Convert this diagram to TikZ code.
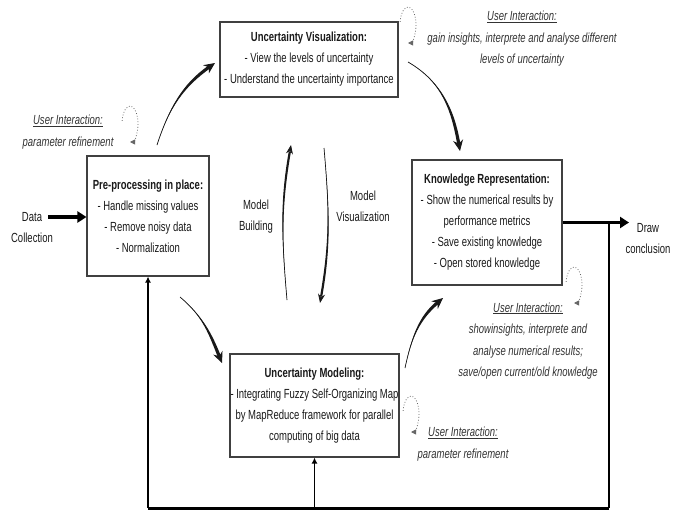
\documentclass[tikz,border=0pt]{standalone}
\usepackage{fontspec}
\setmainfont{Liberation Sans}[FakeStretch=0.72]
\usetikzlibrary{arrows.meta,calc}
\newcommand\taperflow[6][]{%
  \coordinate (tE) at ($(#5)!7pt!(#4)$);
  \coordinate (tN) at ($(tE)!#6!90:(#4)$);
  \coordinate (tS) at ($(tE)!#6!-90:(#4)$);
  \fill[black!90] (#2) .. controls (#3) and ($(#4)+(tN)-(tE)$) .. (tN) -- (tS)
     .. controls ($(#4)+(tS)-(tE)$) and (#3) .. (#2) -- cycle;
  \draw[black!90, line width=0.7pt] (#2) .. controls (#3) and (#4) .. (tE);
  \draw[black!90, #1] (tE) -- (#5);
}
\begin{document}
\begin{tikzpicture}[x=1pt,y=-1pt,
  box/.style={draw=black!75, line width=1.1pt, align=center, inner sep=0pt,
    font=\fontsize{13.2}{21}\selectfont, text=black!90},
  lbl/.style={align=center, font=\fontsize{13.2}{21}\selectfont, text=black!90},
  ui/.style={align=center, font=\fontsize{13.2}{21.5}\selectfont\itshape, text=black!80},
  headbig/.style={-{Stealth[length=11pt,width=10pt]}, line width=1pt},
  headsmall/.style={-{Stealth[length=9pt,width=7pt]}, line width=0.8pt},
  big/.style={-{Triangle[length=9pt,width=11pt]}, line width=3.5pt},
  fb/.style={line width=2pt},
  fbarrow/.style={-{Latex[length=6pt,width=6pt]}, line width=1.8pt},
  uiloop/.style={dotted, line width=0.8pt, black!60, -{Triangle[length=5pt,width=5pt]}}
]
\useasboundingbox (0,0) rectangle (682,511);

% boxes
\node[box, minimum width=178pt, minimum height=75pt] (uv) at (309,59.5)
  {\textbf{Uncertainty Visualization:}\\- View the levels of uncertainty\\- Understand the uncertainty importance};
\node[box, minimum width=122pt, minimum height=120pt] (pre) at (148,216)
  {\textbf{Pre-processing in place:}\\- Handle missing values\\- Remove noisy data\\- Normalization};
\node[box, minimum width=150pt, minimum height=125pt] (kr) at (487,222.5)
  {\textbf{Knowledge Representation:}\\- Show the numerical results by\\performance metrics\\- Save existing knowledge\\- Open stored knowledge};
\node[box, minimum width=169pt, minimum height=103pt] (um) at (314.5,405.5)
  {\textbf{Uncertainty Modeling:}\\- Integrating Fuzzy Self-Organizing Map\\by MapReduce framework for parallel\\computing of big data};

% plain labels
\node[lbl] (data) at (32,228) {Data\\Collection};
\node[lbl] (draw) at (648,239) {Draw\\conclusion};
\node[lbl] (mb) at (256,217) {Model\\Building};
\node[lbl] (mv) at (363,206) {Model\\Visualization};

% user interaction labels
\node[ui] (ui1) at (522,39) {\underline{User Interaction:}\\gain insights, interprete and analyse different\\levels of uncertainty};
\node[ui] (ui2) at (68,132) {\underline{User Interaction:}\\parameter refinement};
\node[ui] (ui3) at (528,341) {\underline{User Interaction:}\\showinsights, interprete and\\analyse numerical results;\\save/open current/old knowledge};
\node[ui] (ui4) at (463,444) {\underline{User Interaction:}\\parameter refinement};

% dotted loops
\coordinate (l1) at (408,25);
\coordinate (l2) at (130,124);
\coordinate (l3) at (574,285);
\coordinate (l4) at (411,414);
\foreach \c in {l1,l2,l3,l4}
  \draw[uiloop] (\c) ++(-170:8 and 18) arc[start angle=-170, end angle=90, x radius=8, y radius=18];

% curved flow arrows (tapered)
\coordinate (a1s) at (157,145); \coordinate (a1p) at (169,108); \coordinate (a1q) at (183,85.4); \coordinate (a1e) at (215,63);
\coordinate (a2s) at (408,62);  \coordinate (a2p) at (442.6,82); \coordinate (a2q) at (453.1,111.6); \coordinate (a2e) at (460,151);
\coordinate (a3s) at (180,297); \coordinate (a3p) at (203.4,316.7); \coordinate (a3q) at (210.5,334.6); \coordinate (a3e) at (222,363);
\coordinate (a4s) at (405,368); \coordinate (a4p) at (411.5,337.5); \coordinate (a4q) at (419.1,318.1); \coordinate (a4e) at (443,298);
\taperflow[headbig]{a1s}{a1p}{a1q}{a1e}{1.6pt}
\taperflow[headbig]{a2s}{a2p}{a2q}{a2e}{1.6pt}
\taperflow[headbig]{a3s}{a3p}{a3q}{a3e}{1.6pt}
\taperflow[headbig]{a4s}{a4p}{a4q}{a4e}{1.6pt}

% model building / visualization
\coordinate (mbs) at (287,300); \coordinate (mbp) at (281.7,239.5); \coordinate (mbq) at (280.5,204.8); \coordinate (mbe) at (291,145);
\coordinate (mvs) at (324,148); \coordinate (mvp) at (329.3,208.5); \coordinate (mvq) at (330.5,243.2); \coordinate (mve) at (320,303);
\taperflow[headsmall]{mbs}{mbp}{mbq}{mbe}{1.1pt}
\taperflow[headsmall]{mvs}{mvp}{mvq}{mve}{1.1pt}

% data collection / draw conclusion
\coordinate (dcs) at (48,217);
\coordinate (dce) at (629,222.5);
\draw[big] (dcs) -- (pre.west |- dcs);
\draw[big] (kr.east) -- (dce);

% feedback
\coordinate (j) at (609,224);
\coordinate (br) at (609,508);
\coordinate (bl) at (148,508);
\draw[fb] (j) -- (br);
\draw[line width=3pt] (br) -- (bl);
\draw[fbarrow] (bl) -- (pre.south);
\draw[fbarrow] (um.south |- br) -- (um.south);
\end{tikzpicture}
\end{document}
